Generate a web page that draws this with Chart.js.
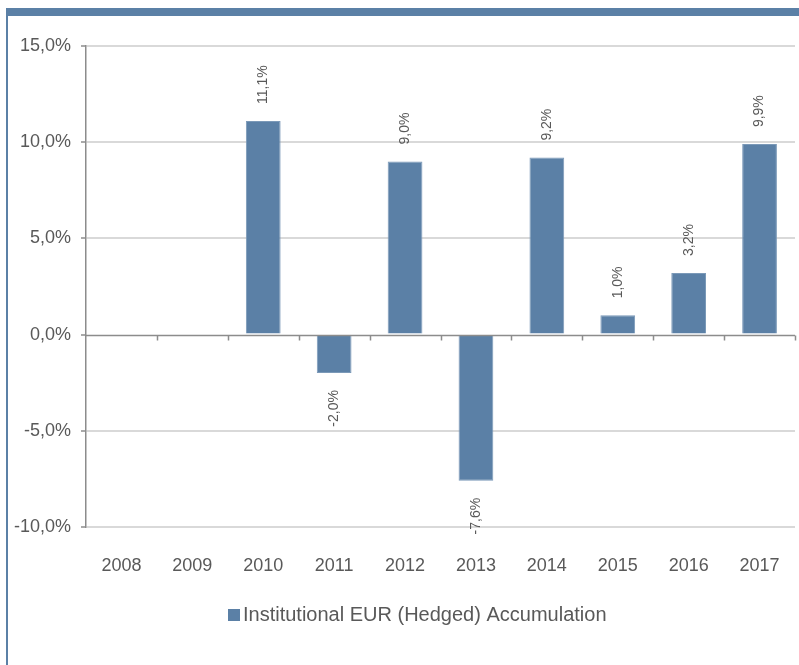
<!DOCTYPE html>
<html>
<head>
<meta charset="utf-8">
<script src="https://cdn.jsdelivr.net/npm/chart.js@4.4.0/dist/chart.umd.min.js"></script>
<style>
	html, body { margin: 0; padding: 0; background: #fff; }
	#wrap { position: relative; width: 799px; height: 665px; }
</style>
</head>
<body>
<div id="wrap"><canvas id="chart1"></canvas></div>
<script>
'use strict';

const years = ['2008', '2009', '2010', '2011', '2012', '2013', '2014', '2015', '2016', '2017'];
const returns = [null, null, 11.1, -2.0, 9.0, -7.6, 9.2, 1.0, 3.2, 9.9];
const series_name = 'Institutional EUR (Hedged) Accumulation';
const y_ticks = [-10, -5, 0, 5, 10, 15];

const bar_color = '#5b80a6';
const text_color = '#595959';
const axis_color = '#8c8c8c';
const font_family = '"Liberation Sans", Arial, sans-serif';

const fmt = v => v.toFixed(1).replace('.', ',') + '%';

// frame: top bar + left line
const framePlugin = {
	id: 'frame',
	beforeDraw(chart) {
		const ctx = chart.ctx;
		ctx.save();
		ctx.fillStyle = bar_color;
		ctx.fillRect(6, 8, 793, 8);
		ctx.fillRect(6, 8, 2, 657);
		ctx.restore();
	}
};

// zero line with category ticks
const zeroPlugin = {
	id: 'zeroLine',
	afterDatasetsDraw(chart) {
		const ctx = chart.ctx;
		const x = chart.scales.x;
		const y0 = Math.round(chart.scales.y.getPixelForValue(0)) + 0.5;
		const area = chart.chartArea;
		const step = (area.right - area.left) / years.length;
		ctx.save();
		ctx.strokeStyle = axis_color;
		ctx.lineWidth = 1.5;
		ctx.beginPath();
		ctx.moveTo(area.left, y0);
		ctx.lineTo(area.right, y0);
		for (let i = 1; i <= years.length; i++) {
			const px = Math.round(x.getPixelForValue(i - 1) + step / 2) + 0.5;
			ctx.moveTo(px, y0);
			ctx.lineTo(px, y0 + 5);
		}
		ctx.stroke();
		ctx.restore();
	}
};

// rotated value labels + legend
const labelPlugin = {
	id: 'valueLabels',
	afterDatasetsDraw(chart) {
		const ctx = chart.ctx;
		const meta = chart.getDatasetMeta(0);
		ctx.save();
		ctx.fillStyle = text_color;
		ctx.font = '14px ' + font_family;
		ctx.textBaseline = 'middle';
		meta.data.forEach((bar, i) => {
			const v = returns[i];
			if (v === null) return;
			ctx.save();
			ctx.translate(bar.x, v >= 0 ? bar.y - 17 : bar.y + 17);
			ctx.rotate(-Math.PI / 2);
			ctx.textAlign = v >= 0 ? 'left' : 'right';
			ctx.fillText(fmt(v), 0, 0);
			ctx.restore();
		});

		// legend
		ctx.fillStyle = bar_color;
		ctx.fillRect(228, 609, 12, 12);
		ctx.fillStyle = text_color;
		ctx.font = '20px ' + font_family;
		ctx.textAlign = 'left';
		ctx.fillText(series_name, 243, 615.5);
		ctx.restore();
	}
};

const data_chart1 = {
	labels: years,
	datasets: [
		{
			label: series_name,
			backgroundColor: bar_color,
			borderColor: '#7b99b8',
			borderWidth: 1,
			data: returns,
			barPercentage: 0.49,
			categoryPercentage: 1
		}
	]
};

var chart1 = document.querySelector('#chart1').getContext('2d');
if(chart1) {
	var chart1Canvas = new Chart(chart1, {
		type: 'bar',
		data: data_chart1,
		plugins: [framePlugin, zeroPlugin, labelPlugin],
		options: {
			responsive: true,
			maintainAspectRatio: false,
			animation: false,
			layout: {
				padding: { top: 46, right: 4, bottom: 68, left: 0 }
			},
			plugins: {
				legend: { display: false },
				tooltip: { enabled: false }
			},
			scales: {
				y: {
					min: -10,
					max: 15,
					afterBuildTicks: axis => {
						axis.ticks = y_ticks.map(v => ({ value: v }));
					},
					afterFit: axis => {
						axis.width = 86;
					},
					ticks: {
						color: text_color,
						font: { size: 18, family: font_family },
						padding: 10,
						callback: v => fmt(v)
					},
					grid: {
						color: ctx => ctx.tick && ctx.tick.value === 0 ? 'rgba(0,0,0,0)' : '#d9d9d9',
						lineWidth: 2,
						tickColor: axis_color,
						tickLength: 5,
						tickWidth: 1.5
					},
					border: {
						color: axis_color,
						width: 1.5
					}
				},
				x: {
					afterFit: axis => {
						axis.height = 70;
					},
					ticks: {
						color: text_color,
						font: { size: 18, family: font_family },
						padding: 3
					},
					grid: {
						drawOnChartArea: false,
						tickLength: 25,
						tickColor: 'rgba(0,0,0,0)'
					},
					border: {
						display: false
					}
				}
			}
		}
	});
}
</script>
</body>
</html>
